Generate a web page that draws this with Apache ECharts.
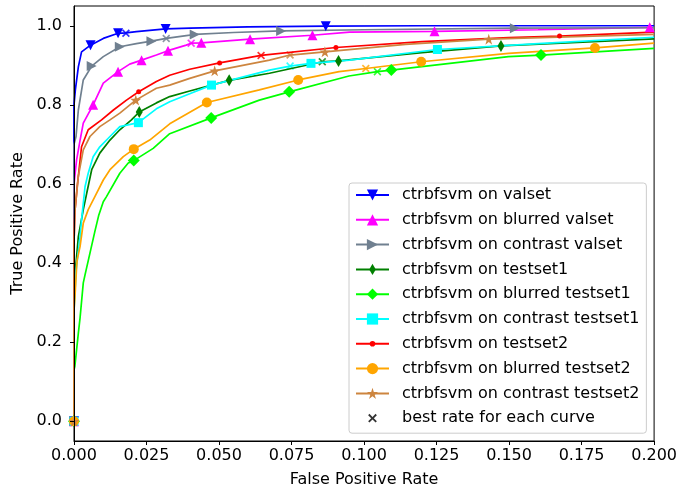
<!DOCTYPE html>
<html>
<head>
<meta charset="utf-8">
<script src="https://cdn.jsdelivr.net/npm/echarts@6/dist/echarts.min.js"></script>
<style>
  html, body { margin: 0; background: #fff; }
  #chart { width: 680px; height: 496px; }
</style>
</head>
<body>
<div id="chart"></div>
<script>
// ROC curves, points are [fpr, tpr]
// the *Marks arrays are the indices of the points that carry a marker
const valset = [[0,0],[0,0.80],[0.0005,0.84],[0.0015,0.896],[0.0026,0.934],[0.0057,0.951],[0.0101,0.968],[0.0152,0.981],[0.0179,0.982],[0.0215,0.985],[0.0316,0.992],[0.040,0.994],[0.060,0.997],[0.0868,0.999],[0.12,1.0],[0.2,1.0]];
const valsetMarks = [0, 5, 7, 10, 13];

const blurredValset = [[0,0],[0,0.60],[0.0009,0.661],[0.0021,0.711],[0.0032,0.754],[0.0066,0.80],[0.0101,0.855],[0.0152,0.884],[0.0192,0.903],[0.0233,0.913],[0.0284,0.926],[0.0324,0.937],[0.0387,0.951],[0.0404,0.956],[0.0439,0.957],[0.0607,0.966],[0.0822,0.976],[0.095,0.984],[0.1243,0.986],[0.16,0.99],[0.1985,0.996]];
const blurredValsetMarks = [0, 5, 7, 9, 11, 14, 15, 16, 18, 20];

const contrastValset = [[0,0],[0,0.70],[0.0007,0.72],[0.0015,0.787],[0.0032,0.863],[0.0061,0.898],[0.0101,0.922],[0.0158,0.947],[0.0215,0.955],[0.0267,0.961],[0.0318,0.968],[0.0387,0.975],[0.0416,0.978],[0.055,0.983],[0.0714,0.987],[0.10,0.990],[0.152,0.994],[0.2,0.995]];
const contrastValsetMarks = [0, 5, 7, 9, 12, 14, 16];

const testset1 = [[0,0],[0,0.30],[0.0007,0.40],[0.0015,0.467],[0.0032,0.535],[0.0044,0.577],[0.0061,0.636],[0.0089,0.678],[0.0124,0.711],[0.0158,0.737],[0.0198,0.762],[0.0225,0.782],[0.0284,0.805],[0.033,0.821],[0.0399,0.835],[0.0535,0.862],[0.0674,0.880],[0.0856,0.909],[0.0912,0.911],[0.12,0.932],[0.1472,0.949],[0.2,0.967]];
const testset1Marks = [0, 11, 15, 18, 20];

const blurredTestset1 = [[0,0],[0,0.13],[0.0003,0.139],[0.0009,0.181],[0.0015,0.223],[0.0021,0.262],[0.0032,0.35],[0.0038,0.37],[0.0055,0.425],[0.0072,0.48],[0.0085,0.52],[0.0101,0.555],[0.0112,0.568],[0.0158,0.627],[0.0187,0.653],[0.0206,0.659],[0.0273,0.69],[0.033,0.727],[0.0473,0.767],[0.0639,0.812],[0.0742,0.833],[0.0948,0.873],[0.1046,0.884],[0.1094,0.888],[0.1498,0.922],[0.161,0.926],[0.2,0.943]];
const blurredTestset1Marks = [0, 15, 18, 20, 23, 25];

const contrastTestset1 = [[0,0],[0,0.28],[0.0007,0.38],[0.0021,0.467],[0.0026,0.509],[0.0038,0.593],[0.0049,0.627],[0.0066,0.669],[0.0089,0.694],[0.0124,0.72],[0.0158,0.745],[0.0222,0.755],[0.0284,0.790],[0.033,0.808],[0.0399,0.828],[0.0474,0.850],[0.0674,0.888],[0.0745,0.898],[0.0817,0.905],[0.095,0.913],[0.1253,0.940],[0.16,0.955],[0.2,0.971]];
const contrastTestset1Marks = [0, 11, 15, 18, 20];

const testset2 = [[0,0],[0,0.45],[0.0003,0.53],[0.0007,0.56],[0.0011,0.593],[0.0026,0.694],[0.0049,0.737],[0.0095,0.762],[0.0136,0.787],[0.0181,0.812],[0.0223,0.833],[0.0284,0.859],[0.033,0.875],[0.0399,0.890],[0.0502,0.906],[0.0645,0.925],[0.0903,0.945],[0.12,0.960],[0.1498,0.970],[0.1674,0.974],[0.2,0.984]];
const testset2Marks = [0, 10, 14, 16, 19];

const blurredTestset2 = [[0,0],[0,0.28],[0.0003,0.31],[0.0009,0.39],[0.0011,0.408],[0.0021,0.442],[0.0032,0.501],[0.0049,0.535],[0.0072,0.568],[0.0101,0.61],[0.0124,0.636],[0.0170,0.669],[0.0206,0.688],[0.0261,0.711],[0.033,0.752],[0.0458,0.806],[0.0639,0.838],[0.0773,0.863],[0.0914,0.884],[0.1006,0.892],[0.1197,0.909],[0.1498,0.930],[0.1796,0.944],[0.2,0.956]];
const blurredTestset2Marks = [0, 12, 15, 17, 20, 22];

const contrastTestset2 = [[0,0],[0,0.45],[0.0003,0.53],[0.0015,0.62],[0.0032,0.686],[0.0055,0.72],[0.0089,0.745],[0.0124,0.762],[0.0158,0.779],[0.0213,0.812],[0.0284,0.842],[0.033,0.850],[0.0399,0.867],[0.0485,0.886],[0.0674,0.913],[0.0745,0.926],[0.0865,0.934],[0.1143,0.953],[0.143,0.966],[0.2,0.978]];
const contrastTestset2Marks = [0, 9, 13, 16, 18];

const curveNames = [
    'ctrbfsvm on valset',
    'ctrbfsvm on blurred valset',
    'ctrbfsvm on contrast valset',
    'ctrbfsvm on testset1',
    'ctrbfsvm on blurred testset1',
    'ctrbfsvm on contrast testset1',
    'ctrbfsvm on testset2',
    'ctrbfsvm on blurred testset2',
    'ctrbfsvm on contrast testset2'
];
const bestName = 'best rate for each curve';
// best point of each curve, same order as curveNames
const bestFpr = [0.0179, 0.0404, 0.0318, 0.0856, 0.1046, 0.0745, 0.0645, 0.1006, 0.0745];
const bestTpr = [0.981, 0.956, 0.968, 0.909, 0.884, 0.898, 0.925, 0.892, 0.926];

const xTicks = [0, 0.025, 0.05, 0.075, 0.1, 0.125, 0.15, 0.175, 0.2];
const yTicks = [0, 0.2, 0.4, 0.6, 0.8, 1.0];

const curves = [valset, blurredValset, contrastValset, testset1, blurredTestset1,
    contrastTestset1, testset2, blurredTestset2, contrastTestset2];
const marks = [valsetMarks, blurredValsetMarks, contrastValsetMarks, testset1Marks, blurredTestset1Marks,
    contrastTestset1Marks, testset2Marks, blurredTestset2Marks, contrastTestset2Marks];

// look of each curve (matplotlib style markers)
// the "M a,b M c,d" at the start of some paths only pads the box so the legend icon keeps its shape
const starPath = 'path://M50,0L61.2,34.5L97.6,34.5L68.2,55.9L79.4,90.5L50,69.1L20.6,90.5L31.8,55.9L2.4,34.5L38.8,34.5Z';
const thinDiamond = 'path://M0,0M12,12M6,0L9.5,6L6,12L2.5,6Z';
const smallDot = 'path://M-5,-5M15,15M10,5A5,5,0,1,1,0,5A5,5,0,1,1,10,5Z';
const crossPath = 'path://M0,1.5L1.5,0L5,3.5L8.5,0L10,1.5L6.5,5L10,8.5L8.5,10L5,6.5L1.5,10L0,8.5L3.5,5Z';
const crossLegend = 'path://M-3,-3M13,13M0,1.5L1.5,0L5,3.5L8.5,0L10,1.5L6.5,5L10,8.5L8.5,10L5,6.5L1.5,10L0,8.5L3.5,5Z';
const looks = [
    { color: '#0000ff', symbol: 'triangle', size: 10, rotate: 180 },
    { color: '#ff00ff', symbol: 'triangle', size: 10, rotate: 0 },
    { color: '#708090', symbol: 'triangle', size: 10, rotate: -90 },
    { color: '#008000', symbol: thinDiamond, size: 12, rotate: 0 },
    { color: '#00ff00', symbol: 'diamond', size: 12, rotate: 0 },
    { color: '#00ffff', symbol: 'rect', size: 9, rotate: 0 },
    { color: '#ff0000', symbol: smallDot, size: 10, rotate: 0 },
    { color: '#ffa500', symbol: 'circle', size: 10, rotate: 0 },
    { color: '#cd853f', symbol: starPath, size: 11, rotate: 0 }
];

var myChart = echarts.init(document.getElementById('chart'));

const seriesList = [];
curves.forEach(function (pts, k) {
    const look = looks[k];
    seriesList.push({
        name: curveNames[k],
        type: 'line',
        showSymbol: true,
        showAllSymbol: true,
        symbol: look.symbol,
        symbolSize: look.size,
        symbolRotate: look.rotate,
        symbolKeepAspect: false,
        lineStyle: { color: look.color, width: 1.7 },
        itemStyle: { color: look.color },
        emphasis: { disabled: true },
        data: pts.map(function (p, i) {
            return marks[k].indexOf(i) >= 0 ? { value: p } : { value: p, symbol: 'none' };
        })
    });
});

seriesList.push({
    name: bestName,
    type: 'scatter',
    symbol: crossPath,
    symbolSize: 8,
    itemStyle: { color: '#000' },
    emphasis: { disabled: true },
    data: bestFpr.map(function (x, k) {
        return { value: [x, bestTpr[k]], itemStyle: { color: looks[k].color } };
    })
});

const font = 'DejaVu Sans';

option = {
    animation: false,
    textStyle: { fontFamily: font },
    grid: {
        left: 74, right: 24, top: 6, bottom: 55,
        show: true, borderColor: '#000', borderWidth: 1, backgroundColor: '#fff'
    },
    legend: {
        orient: 'vertical',
        left: 349,
        top: 183,
        padding: [4, 7, 7, 6],
        itemWidth: 33,
        itemHeight: 14,
        itemGap: 8.8,
        backgroundColor: '#fff',
        borderColor: '#cccccc',
        borderWidth: 1,
        borderRadius: 3,
        selectedMode: false,
        textStyle: { fontFamily: font, fontSize: 16, color: '#000', padding: [0, 0, 0, 8] },
        data: curveNames.concat([{ name: bestName, icon: crossLegend }])
    },
    xAxis: {
        type: 'value',
        min: 0,
        max: 0.2,
        z: 5,
        name: 'False Positive Rate',
        nameLocation: 'middle',
        nameGap: 31,
        nameTextStyle: { fontFamily: font, fontSize: 16, color: '#000' },
        axisLine: { show: true, onZero: false, lineStyle: { color: '#000', width: 1 } },
        axisTick: { show: true, length: 4, customValues: xTicks, lineStyle: { color: '#000' } },
        axisLabel: {
            customValues: xTicks, margin: 7, fontSize: 16, color: '#000', fontFamily: font,
            formatter: function (v) { return v.toFixed(3); }
        },
        splitLine: { show: false }
    },
    yAxis: {
        type: 'value',
        min: -0.05,
        max: 1.05,
        z: 5,
        name: 'True Positive Rate',
        nameLocation: 'middle',
        nameGap: 46,
        nameTextStyle: { fontFamily: font, fontSize: 16, color: '#000' },
        axisLine: { show: true, onZero: false, lineStyle: { color: '#000', width: 1 } },
        axisTick: { show: true, length: 4, customValues: yTicks, lineStyle: { color: '#000' } },
        axisLabel: {
            customValues: yTicks, margin: 12, fontSize: 16, color: '#000', fontFamily: font,
            formatter: function (v) { return v.toFixed(1); }
        },
        splitLine: { show: false }
    },
    series: seriesList
};
myChart.setOption(option);
</script>
</body>
</html>
